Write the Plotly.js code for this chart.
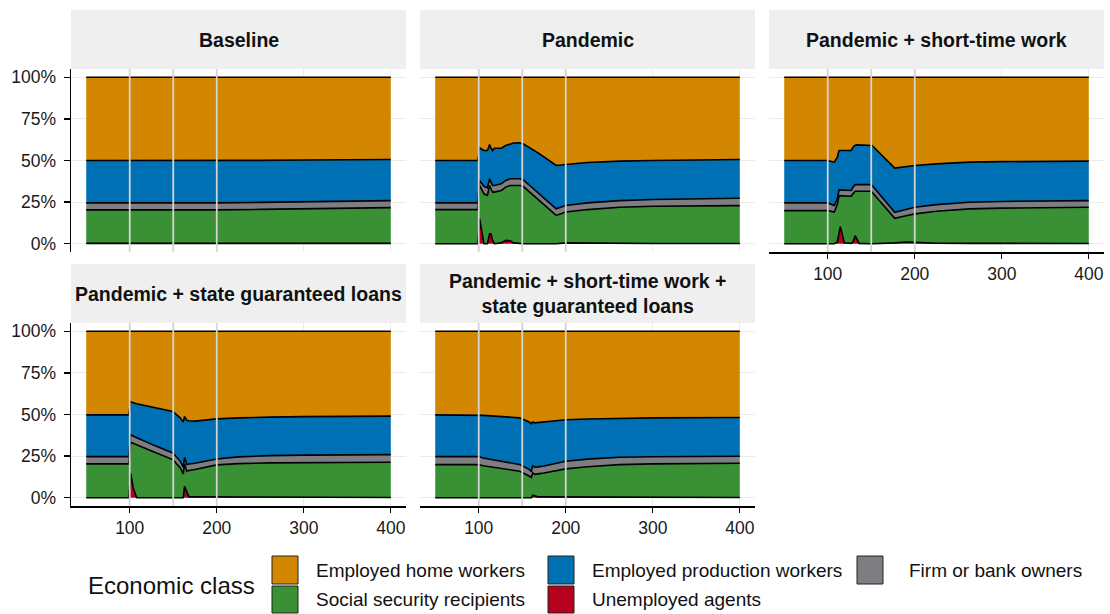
<!DOCTYPE html>
<html>
<head>
<meta charset="utf-8">
<script src="https://cdn.plot.ly/plotly-3.0.1.min.js"></script>
<style>
html,body{margin:0;padding:0;background:#fff;}
#chart{width:1110px;height:614px;}
</style>
</head>
<body>
<div id="chart"></div>
<script>
// ---------------- DATA ----------------
const classNames = ['Unemployed agents', 'Social security recipients', 'Firm or bank owners', 'Employed production workers', 'Employed home workers'];
const classColors = ['#B5001E', '#3A9135', '#7E7E82', '#0070B5', '#D38700'];
const panelTitles = ['Baseline', 'Pandemic', 'Pandemic + short-time work', 'Pandemic + state guaranteed loans', 'Pandemic + short-time work +<br>state guaranteed loans'];
const xTickVals = [100, 200, 300, 400];
const yTickVals = [0, 0.25, 0.5, 0.75, 1];
const yTickText = ['0%', '25%', '50%', '75%', '100%'];
const policyDates = [100, 150, 200];

// Baseline
const baselineTime = [50, 100, 110, 150, 200, 250, 300, 350, 400];
const baselineUnemployed = [0.002, 0.002, 0.002, 0.002, 0.002, 0.002, 0.002, 0.002, 0.002];
const baselineSocial = [0.201, 0.201, 0.198, 0.198, 0.201, 0.204, 0.208, 0.212, 0.215];
const baselineOwners = [0.042, 0.042, 0.042, 0.043, 0.042, 0.042, 0.042, 0.042, 0.042];
const baselineProduction = [0.255, 0.255, 0.255, 0.255, 0.255, 0.253, 0.251, 0.249, 0.247];
const baselineHome = [0.500, 0.500, 0.503, 0.502, 0.500, 0.499, 0.497, 0.495, 0.494];

// Pandemic
const pandemicTime = [50, 99, 101, 104, 106, 110, 112.5, 114, 116, 118, 126, 131, 136, 140, 147, 151, 170, 189, 200, 225, 262, 300, 400];
const pandemicUnemployed = [0, 0, 0.15, 0.06, 0, 0, 0.06, 0.06, 0.02, 0, 0.005, 0.02, 0.018, 0.005, 0.002, 0, 0, 0, 0.005, 0.003, 0.002, 0.001, 0.001];
const pandemicSocial = [0.205, 0.205, 0.20, 0.26, 0.30, 0.29, 0.29, 0.27, 0.29, 0.31, 0.315, 0.32, 0.332, 0.345, 0.348, 0.345, 0.26, 0.17, 0.185, 0.202, 0.217, 0.224, 0.228];
const pandemicOwners = [0.04, 0.04, 0.03, 0.04, 0.045, 0.045, 0.04, 0.04, 0.04, 0.04, 0.04, 0.04, 0.04, 0.04, 0.04, 0.04, 0.04, 0.04, 0.039, 0.04, 0.04, 0.041, 0.044];
const pandemicProduction = [0.255, 0.255, 0.196, 0.205, 0.215, 0.225, 0.206, 0.205, 0.21, 0.224, 0.214, 0.21, 0.21, 0.215, 0.216, 0.215, 0.24, 0.26, 0.247, 0.243, 0.237, 0.234, 0.233];
const pandemicHome = [0.50, 0.50, 0.424, 0.435, 0.44, 0.44, 0.404, 0.425, 0.44, 0.426, 0.426, 0.41, 0.40, 0.395, 0.394, 0.40, 0.46, 0.53, 0.524, 0.512, 0.504, 0.50, 0.494];

// Pandemic + short-time work
const shortTime = [50, 100, 107.5, 111, 113, 114.5, 117, 119, 127, 129, 131.5, 134, 136, 148, 151, 177, 190, 200, 225, 263, 300, 400];
const shortUnemployed = [0, 0, 0, 0.01, 0.07, 0.102, 0.05, 0.005, 0.002, 0.01, 0.048, 0.02, 0.002, 0, 0, 0.005, 0.01, 0.008, 0.003, 0.002, 0.001, 0.001];
const shortSocial = [0.199, 0.199, 0.19, 0.225, 0.219, 0.187, 0.239, 0.283, 0.283, 0.29, 0.267, 0.295, 0.313, 0.315, 0.31, 0.147, 0.158, 0.171, 0.192, 0.207, 0.213, 0.218];
const shortOwners = [0.046, 0.046, 0.039, 0.035, 0.034, 0.034, 0.034, 0.034, 0.035, 0.04, 0.04, 0.04, 0.04, 0.04, 0.04, 0.037, 0.037, 0.04, 0.04, 0.04, 0.04, 0.04];
const shortProduction = [0.255, 0.255, 0.261, 0.25, 0.237, 0.237, 0.237, 0.238, 0.24, 0.24, 0.237, 0.239, 0.239, 0.239, 0.24, 0.265, 0.257, 0.251, 0.245, 0.241, 0.239, 0.237];
const shortHome = [0.50, 0.50, 0.51, 0.48, 0.44, 0.44, 0.44, 0.44, 0.44, 0.42, 0.408, 0.406, 0.406, 0.406, 0.41, 0.546, 0.538, 0.53, 0.52, 0.51, 0.507, 0.504];

// Pandemic + state guaranteed loans
const loansTime = [50, 99, 101, 104, 108, 130, 149.5, 158, 161.5, 163, 165.5, 168, 175, 200, 225, 261, 300, 400];
const loansUnemployed = [0, 0, 0.147, 0.06, 0, 0, 0, 0, 0, 0.068, 0.03, 0.005, 0.005, 0.005, 0.004, 0.002, 0.001, 0.001];
const loansSocial = [0.203, 0.203, 0.186, 0.265, 0.318, 0.27, 0.229, 0.18, 0.143, 0.135, 0.129, 0.158, 0.164, 0.192, 0.201, 0.207, 0.21, 0.212];
const loansOwners = [0.044, 0.044, 0.045, 0.045, 0.042, 0.04, 0.04, 0.04, 0.04, 0.04, 0.04, 0.039, 0.038, 0.036, 0.04, 0.044, 0.045, 0.046];
const loansProduction = [0.251, 0.251, 0.2, 0.2, 0.205, 0.23, 0.249, 0.26, 0.271, 0.245, 0.266, 0.26, 0.253, 0.241, 0.235, 0.231, 0.231, 0.231];
const loansHome = [0.502, 0.502, 0.422, 0.43, 0.435, 0.46, 0.482, 0.52, 0.546, 0.512, 0.535, 0.538, 0.54, 0.526, 0.52, 0.516, 0.513, 0.51];

// Pandemic + short-time work + state guaranteed loans
const bothTime = [50, 100, 105, 147, 158, 160.5, 162, 164.5, 168, 175, 200, 225, 262, 300, 400];
const bothUnemployed = [0, 0, 0, 0, 0, 0, 0.015, 0.012, 0.005, 0.005, 0.005, 0.003, 0.002, 0.001, 0.001];
const bothSocial = [0.199, 0.199, 0.192, 0.159, 0.13, 0.122, 0.135, 0.128, 0.138, 0.143, 0.168, 0.183, 0.197, 0.202, 0.206];
const bothOwners = [0.048, 0.048, 0.047, 0.04, 0.04, 0.035, 0.04, 0.043, 0.042, 0.042, 0.046, 0.046, 0.044, 0.043, 0.042];
const bothProduction = [0.251, 0.251, 0.256, 0.281, 0.285, 0.287, 0.265, 0.267, 0.267, 0.265, 0.249, 0.241, 0.235, 0.234, 0.233];
const bothHome = [0.502, 0.502, 0.505, 0.52, 0.545, 0.556, 0.545, 0.55, 0.548, 0.545, 0.532, 0.527, 0.522, 0.52, 0.518];

// ---------------- BUILD ----------------
const panels = [
  {time: baselineTime, series: [baselineUnemployed, baselineSocial, baselineOwners, baselineProduction, baselineHome]},
  {time: pandemicTime, series: [pandemicUnemployed, pandemicSocial, pandemicOwners, pandemicProduction, pandemicHome]},
  {time: shortTime, series: [shortUnemployed, shortSocial, shortOwners, shortProduction, shortHome]},
  {time: loansTime, series: [loansUnemployed, loansSocial, loansOwners, loansProduction, loansHome]},
  {time: bothTime, series: [bothUnemployed, bothSocial, bothOwners, bothProduction, bothHome]}
];

const W = 1110, H = 614;
const px = v => v / W;
const py = v => 1 - v / H;
// panel pixel boxes [left, right, top, bottom]
const boxes = [
  [71, 406, 69, 252], [420, 755, 69, 252], [769, 1104, 69, 252],
  [71, 406, 323, 506], [420, 755, 323, 506]
];
const strips = [[10, 69], [264, 323]];
const showYLabels = [true, false, false, true, false];
const showXLabels = [false, false, true, true, true];

const FONT = 'Liberation Sans, Arial, Helvetica, sans-serif';
const traces = [];
const layout = {
  width: W, height: H,
  margin: {l: 0, r: 0, t: 0, b: 0},
  paper_bgcolor: '#fff', plot_bgcolor: 'rgba(0,0,0,0)',
  showlegend: false,
  font: {family: FONT, color: '#1a1a1a'},
  shapes: [], annotations: []
};

panels.forEach((p, i) => {
  const n = i + 1;
  const xa = 'x' + (n === 1 ? '' : n), ya = 'y' + (n === 1 ? '' : n);
  p.series.forEach((vals, k) => {
    traces.push({
      type: 'scatter', x: p.time, y: vals, xaxis: xa, yaxis: ya,
      stackgroup: 'g' + n, groupnorm: 'fraction',
      mode: 'lines', line: {color: '#000', width: 1.6, shape: 'linear'},
      fillcolor: classColors[k], name: classNames[k],
      hoverinfo: 'skip', showlegend: false
    });
  });
  const b = boxes[i];
  const row = i < 3 ? 0 : 1;
  layout['xaxis' + (n === 1 ? '' : n)] = {
    domain: [px(b[0]), px(b[1])], anchor: ya, range: [32.5, 417.5],
    tickvals: xTickVals, showticklabels: showXLabels[i],
    ticks: showXLabels[i] ? 'outside' : '', ticklen: 5, tickcolor: '#000', tickwidth: 1.2,
    showline: showXLabels[i], linecolor: '#000', linewidth: 1.5,
    showgrid: true, gridcolor: '#EBEBEB', gridwidth: 1, zeroline: false,
    tickfont: {size: 17.5, color: '#1a1a1a', family: FONT}, fixedrange: true
  };
  layout['yaxis' + (n === 1 ? '' : n)] = {
    domain: [py(b[3]), py(b[2])], anchor: xa, range: [-0.05, 1.05],
    tickvals: yTickVals, ticktext: yTickText, showticklabels: showYLabels[i],
    ticks: showYLabels[i] ? 'outside' : '', ticklen: 6, tickcolor: '#000', tickwidth: 1.2,
    ticklabelstandoff: 4,
    showline: showYLabels[i], linecolor: '#000', linewidth: 1.5,
    showgrid: true, gridcolor: '#EBEBEB', gridwidth: 1, zeroline: false,
    tickfont: {size: 17.5, color: '#1a1a1a', family: FONT}, fixedrange: true
  };
  policyDates.forEach(d => {
    layout.shapes.push({type: 'line', xref: xa, yref: ya + ' domain', x0: d, x1: d, y0: 0, y1: 1,
      layer: 'above', line: {color: '#D4D4D4', width: 1.8}});
  });
  const s = strips[row];
  layout.shapes.push({type: 'rect', xref: 'paper', yref: 'paper', x0: px(b[0]), x1: px(b[1]), y0: py(s[1]), y1: py(s[0]),
    fillcolor: '#EFEFEF', line: {width: 0}, layer: 'below'});
  layout.annotations.push({xref: 'paper', yref: 'paper', x: px((b[0] + b[1]) / 2), y: py((s[0] + s[1]) / 2),
    xanchor: 'center', yanchor: 'middle', showarrow: false, text: '<b>' + panelTitles[i] + '</b>',
    font: {size: 19.5, color: '#111', family: FONT}});
});

// ---------------- LEGEND (drawn) ----------------
const legendOrder = [4, 3, 2, 1, 0]; // home, production, owners, social, unemployed
const legendSlots = [[272, 314, 0], [548, 590, 0], [857, 907, 0], [272, 314, 1], [548, 590, 1]];
const legendRows = [[556, 584], [586, 613]];
layout.annotations.push({xref: 'paper', yref: 'paper', x: px(86), y: py(585), xanchor: 'left', yanchor: 'middle',
  showarrow: false, text: 'Economic class', font: {size: 24, color: '#111', family: FONT}});
legendOrder.forEach((ci, j) => {
  const sl = legendSlots[j];
  const r = legendRows[sl[2]];
  layout.shapes.push({type: 'rect', xref: 'paper', yref: 'paper', x0: px(sl[0]), x1: px(sl[0] + 26), y0: py(r[1]), y1: py(r[0]),
    fillcolor: classColors[ci], line: {color: '#222', width: 1}});
  layout.annotations.push({xref: 'paper', yref: 'paper', x: px(sl[1]), y: py((r[0] + r[1]) / 2), xanchor: 'left', yanchor: 'middle',
    showarrow: false, text: classNames[ci], font: {size: 19, color: '#111', family: FONT}});
});

Plotly.newPlot('chart', traces, layout, {staticPlot: true, displayModeBar: false});
</script>
</body>
</html>
